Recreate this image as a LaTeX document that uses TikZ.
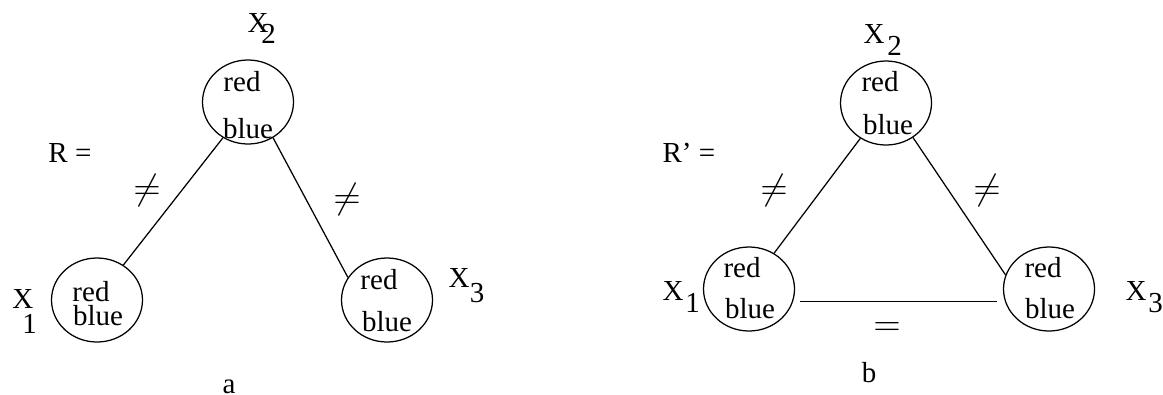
\documentclass[tikz,border=0pt]{standalone}
\usepackage{fontspec}
\setmainfont{Liberation Serif}
\usepackage{tikz}
\usetikzlibrary{shapes.geometric,calc}
\newcommand{\xsub}[3]{X\kern#2\raisebox{-#3}{#1}}

\begin{document}
\begin{tikzpicture}[
    x=0.4pt, y=-0.4pt,
    every node/.style={inner sep=0pt, font=\fontsize{11.6}{14}\selectfont},
    var/.style={ellipse, draw, line width=0.5pt, minimum width=36.4pt, minimum height=33.6pt},
    word/.style={inner sep=0pt},
    vname/.style={anchor=base west},
    relsym/.style={font=\fontsize{14.5}{16}\selectfont},
    rel/.style={line width=0.5pt}
]
\useasboundingbox (0,0) rectangle (1163,394);

\node[var] (a2) at (248,102) {};
\node[var] (a1) at (97,300) {};
\node[var] (a3) at (387,300) {};
\node[word] (a2r) at ($(a2)+(-6,-20)$) {red};
\node[word] (a2b) at ($(a2)+(0,27)$) {blue};
\node[word] (a1r) at ($(a1)+(-6,-8)$) {red};
\node[word] (a1b) at ($(a1)+(1,16)$) {blue};
\node[word] (a3r) at ($(a3)+(-8,-20)$) {red};
\node[word] (a3b) at ($(a3)+(0,22)$) {blue};
\node[vname] (a2n) at (247,32) {\xsub{2}{-2.8pt}{4.4pt}};
\node[vname] (a1n) at (12,308) {\xsub{1}{-4.4pt}{10pt}};
\node[vname] (a3n) at (448,287) {\xsub{3}{0.2pt}{6pt}};
\node[anchor=base west] (rdef) at (48,162) {R =};
\draw[rel] (a2.235) -- (a1.53);
\draw[rel] (a2.-55) -- (a3.150);
\node[relsym] (a12) at (147,190) {$\neq$};
\node[relsym] (a23) at (347,199) {$\neq$};
\node[anchor=base] (capa) at (229,393) {a};

\node[var] (b2) at (886,103) {};
\node[var] (b1) at (749,289) {};
\node[var] (b3) at (1049,289) {};
\node[word] (b2r) at ($(b2)+(-6,-21)$) {red};
\node[word] (b2b) at ($(b2)+(2,22)$) {blue};
\node[word] (b1r) at ($(b1)+(-7,-21)$) {red};
\node[word] (b1b) at ($(b1)+(1,20)$) {blue};
\node[word] (b3r) at ($(b3)+(-6,-21)$) {red};
\node[word] (b3b) at ($(b3)+(1,20)$) {blue};
\node[vname] (b2n) at (863,43) {\xsub{2}{1.2pt}{4.8pt}};
\node[vname] (b1n) at (662,300) {\xsub{1}{0.8pt}{4.8pt}};
\node[vname] (b3n) at (1125,300) {\xsub{3}{0.8pt}{4.8pt}};
\node[anchor=base west] (rpdef) at (662,162) {R’ =};
\draw[rel] (b2.234) -- (b1.55);
\draw[rel] (b2.-52) -- (b3.162);
\draw[rel, shorten <=2.8pt, shorten >=3.2pt] (b1.-16) -- (b3.196);
\node[relsym] (b12) at (774,190) {$\neq$};
\node[relsym] (b23) at (987,190) {$\neq$};
\node[relsym] (b13) at (887,329) {$=$};
\node[anchor=base] (capb) at (869,382) {b};
\end{tikzpicture}
\end{document}
